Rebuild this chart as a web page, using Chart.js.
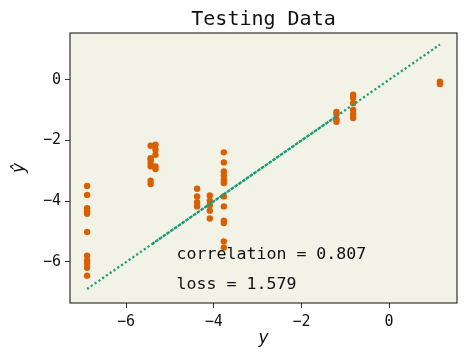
<!DOCTYPE html>
<html>
<head>
<meta charset="utf-8">
<script src="https://cdn.jsdelivr.net/npm/chart.js@4"></script>
<style>
  html, body { margin: 0; padding: 0; background: #ffffff; }
  #wrap { width: 467px; height: 362px; }
</style>
</head>
<body>
<div id="wrap"><canvas id="testCtx"></canvas></div>
<script>
// true values (x) and predictions (y), one entry per test sample
const trueVals = [
  -6.89, -6.89, -6.89, -6.89, -6.89, -6.89, -6.89, -6.89, -6.89, -6.89, -6.89,
  -5.44, -5.44, -5.44, -5.44, -5.44, -5.44, -5.44,
  -5.33, -5.33, -5.33, -5.33, -5.33,
  -4.38, -4.38, -4.38, -4.38,
  -4.09, -4.09, -4.09, -4.09, -4.09,
  -3.77, -3.77, -3.77, -3.77, -3.77, -3.77, -3.77, -3.77, -3.77, -3.77, -3.77, -3.77,
  -1.20, -1.20, -1.20, -1.20,
  -0.82, -0.82, -0.82, -0.82, -0.82, -0.82,
  1.16, 1.16
];
const predVals = [
  -3.50, -3.79, -4.23, -4.33, -4.41, -5.01, -5.79, -5.95, -6.04, -6.19, -6.45,
  -2.17, -2.58, -2.63, -2.74, -2.85, -3.32, -3.43,
  -2.14, -2.30, -2.47, -2.85, -2.94,
  -3.59, -3.84, -4.03, -4.17,
  -3.81, -3.98, -4.13, -4.31, -4.57,
  -2.39, -2.72, -3.02, -3.15, -3.29, -3.40, -3.84, -4.17, -4.64, -4.72, -5.32, -5.52,
  -1.06, -1.13, -1.30, -1.38,
  -0.49, -0.60, -0.77, -0.99, -1.13, -1.26,
  -0.06, -0.14
];
const xTicks = [-6, -4, -2, 0];
const yTicks = [-6, -4, -2, 0];
const chartTitle = "Testing Data";
const notes = ["correlation = 0.807", "loss = 1.579"];

const minTrue = Math.min(...trueVals);
const maxTrue = Math.max(...trueVals);

const points = trueVals.map((v, i) => ({ x: v, y: predVals[i] }));
// identity line y = x over the range of the true values
const idLine = [{ x: minTrue, y: minTrue }, { x: maxTrue, y: maxTrue }];
// denser overlap section of the identity line
const idDense = [{ x: -5.44, y: -5.44 }, { x: -1.20, y: -1.20 }];

const mono = "'DejaVu Sans Mono', monospace";
const minus = v => String(v).replace("-", "\u2212");

// draws frame, title, axis labels and the text notes
const decorPlugin = {
  id: "decor",
  beforeDraw(chart) {
    const { ctx, chartArea: a } = chart;
    ctx.save();
    ctx.fillStyle = "#f3f2e6";
    ctx.fillRect(a.left, a.top, a.right - a.left, a.bottom - a.top);
    ctx.restore();
  },
  afterDraw(chart) {
    const { ctx, chartArea: a, scales } = chart;
    ctx.save();
    ctx.strokeStyle = "#333333";
    ctx.lineWidth = 1.2;
    ctx.strokeRect(a.left, a.top, a.right - a.left, a.bottom - a.top);

    ctx.fillStyle = "#111111";
    ctx.font = "20px " + mono;
    ctx.textAlign = "center";
    ctx.textBaseline = "alphabetic";
    ctx.fillText(chartTitle, (a.left + a.right) / 2, 25);

    ctx.font = "italic 17px 'DejaVu Sans', sans-serif";
    ctx.textBaseline = "middle";
    ctx.fillText("y", (a.left + a.right) / 2, 339);
    ctx.translate(20, (a.top + a.bottom) / 2);
    ctx.rotate(-Math.PI / 2);
    ctx.fillText("\u0177", 0, 0);
    ctx.restore();

    ctx.save();
    ctx.fillStyle = "#111111";
    ctx.font = "16.6px " + mono;
    ctx.textAlign = "left";
    ctx.textBaseline = "middle";
    const tx = scales.x.getPixelForValue(-4.85);
    ctx.fillText(notes[0], tx, scales.y.getPixelForValue(-5.75));
    ctx.fillText(notes[1], tx, scales.y.getPixelForValue(-6.75));
    ctx.restore();
  }
};

const testChart = new Chart(document.getElementById("testCtx"), {
  type: "scatter",
  data: {
    datasets: [
      {
        type: "line",
        data: idLine,
        borderColor: "#1b9e77",
        borderWidth: 2.3,
        borderDash: [2.2, 2.4],
        pointRadius: 0,
        fill: false
      },
      {
        type: "line",
        data: idDense,
        borderColor: "#1b9e77",
        borderWidth: 2.3,
        borderDash: [2.4, 2.2],
        borderDashOffset: 2.3,
        pointRadius: 0,
        fill: false
      },
      {
        data: points,
        backgroundColor: "#d95f02",
        borderWidth: 0,
        pointRadius: 3.2
      }
    ]
  },
  plugins: [decorPlugin],
  options: {
    responsive: true,
    maintainAspectRatio: false,
    animation: false,
    layout: { padding: { top: 33, right: 10, left: 0, bottom: 0 } },
    plugins: { legend: { display: false }, tooltip: { enabled: false }, title: { display: false } },
    scales: {
      x: {
        type: "linear",
        min: -7.28,
        max: 1.55,
        afterBuildTicks: s => { s.ticks = xTicks.map(v => ({ value: v })); },
        afterFit: s => { s.height = 59; },
        grid: { drawOnChartArea: false, drawTicks: true, tickLength: 5, color: "#333333" },
        border: { display: false },
        ticks: { color: "#111111", font: { family: mono, size: 15 }, padding: 5, callback: minus }
      },
      y: {
        type: "linear",
        min: -7.35,
        max: 1.54,
        afterBuildTicks: s => { s.ticks = yTicks.map(v => ({ value: v })); },
        afterFit: s => { s.width = 70; },
        grid: { drawOnChartArea: false, drawTicks: true, tickLength: 5, color: "#333333" },
        border: { display: false },
        ticks: { color: "#111111", font: { family: mono, size: 15 }, padding: 4, callback: minus }
      }
    }
  }
});
</script>
</body>
</html>
